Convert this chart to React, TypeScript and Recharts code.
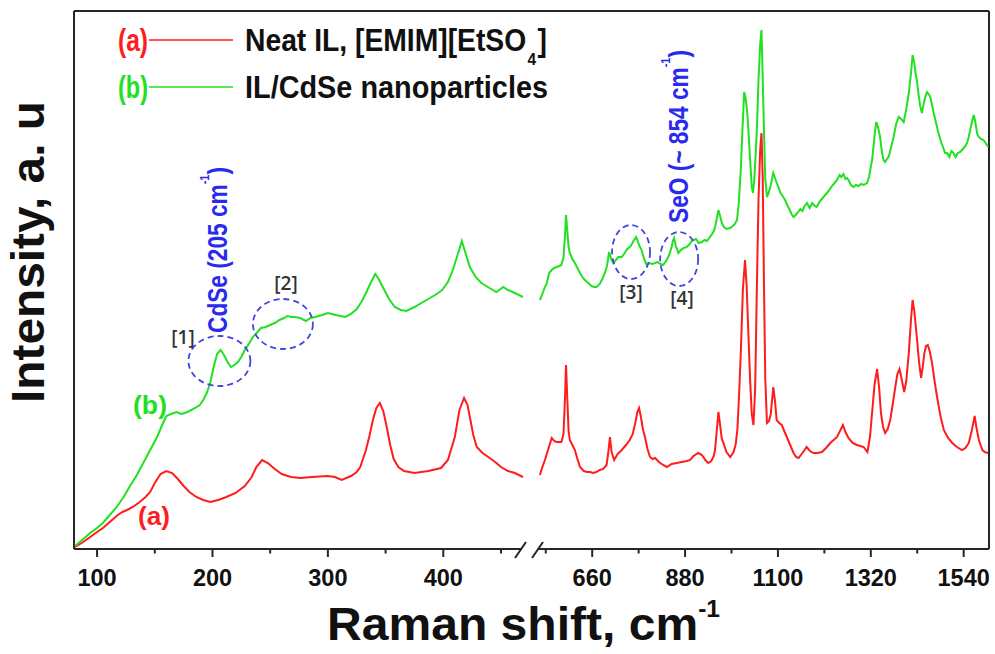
import React from 'react';
import { LineChart, Line, XAxis, YAxis, ReferenceLine, ReferenceDot } from 'recharts';

// ---------- data (Raman shift in cm-1, intensity in arbitrary units) ----------
const neatLeftShift = [81, 88, 94, 100, 105, 112, 118, 122, 126, 131, 137, 142, 146, 150, 155, 160, 165, 170, 175, 180, 186, 192, 198, 205, 212, 220, 228, 234, 238, 243, 248, 254, 260, 268, 276, 286, 300, 306, 312, 320, 325, 328, 333, 336, 339, 342, 345, 348, 351, 354, 357, 361, 366, 375, 387, 398, 404, 410, 414, 418, 421, 423, 426, 429, 434, 439, 445, 450, 456, 462, 469];
const neatLeftIntensity = [2, 7, 12, 17, 21, 28, 34, 37, 39, 42, 47, 52, 57, 66, 75, 78, 76, 70, 63, 57, 52, 49, 47, 49, 52, 56, 63, 72, 82, 89, 86, 80, 75, 72, 71, 72, 73, 72, 69, 73, 77, 82, 99, 113, 129, 141, 146, 138, 122, 104, 90, 82, 78, 76, 78, 81, 89, 112, 139, 151, 144, 132, 114, 102, 96, 92, 87, 82, 78, 76, 72];

const cdseLeftShift = [81, 88, 94, 100, 105, 111, 117, 123, 128, 134, 140, 146, 152, 156, 160, 164, 169, 173, 176, 180, 185, 189, 192, 195, 198, 201, 204, 207, 210, 213, 216, 219, 222, 225, 228, 232, 235, 239, 242, 246, 250, 254, 258, 262, 265, 268, 271, 276, 281, 285, 289, 295, 300, 307, 311, 315, 320, 325, 329, 333, 337, 341, 344, 348, 353, 358, 363, 368, 375, 381, 387, 393, 399, 404, 408, 411, 414, 416, 419, 423, 428, 433, 440, 446, 452, 456, 462, 469];
const cdseLeftIntensity = [3, 10, 16, 21, 26, 34, 42, 52, 62, 73, 86, 99, 112, 123, 133, 135, 137, 135, 136, 138, 141, 144, 149, 156, 166, 182, 195, 199, 194, 187, 182, 184, 187, 192, 199, 206, 212, 217, 221, 222, 224, 226, 229, 231, 233, 232, 232, 231, 228, 231, 232, 234, 236, 234, 233, 232, 235, 240, 247, 256, 266, 275, 270, 261, 250, 242, 239, 238, 242, 246, 250, 254, 259, 267, 278, 289, 300, 308, 297, 282, 272, 266, 261, 257, 262, 259, 256, 252];

const neatRightShift = [536, 542, 548, 556, 564, 570, 576, 582, 587, 592, 595, 598, 601, 604, 607, 613, 619, 625, 631, 640, 648, 655, 662, 670, 678, 686, 694, 698, 702, 706, 712, 720, 730, 740, 749, 756, 762, 767, 771, 775, 780, 785, 791, 797, 803, 809, 818, 828, 837, 848, 860, 872, 884, 892, 900, 911, 920, 928, 935, 942, 948, 951, 955, 959, 963, 967, 971, 978, 987, 995, 1000, 1004, 1008, 1012, 1017, 1022, 1026, 1030, 1034, 1038, 1042, 1046, 1050, 1054, 1058, 1061, 1064, 1067, 1070, 1074, 1079, 1083, 1089, 1093, 1097, 1103, 1109, 1115, 1121, 1129, 1137, 1143, 1149, 1158, 1168, 1176, 1184, 1194, 1204, 1214, 1224, 1232, 1240, 1247, 1254, 1260, 1267, 1277, 1287, 1295, 1303, 1312, 1318, 1323, 1329, 1335, 1340, 1344, 1349, 1354, 1360, 1366, 1372, 1378, 1383, 1388, 1393, 1399, 1404, 1410, 1415, 1419, 1423, 1429, 1434, 1439, 1443, 1447, 1451, 1455, 1460, 1465, 1471, 1477, 1485, 1493, 1503, 1513, 1524, 1536, 1544, 1552, 1559, 1566, 1570, 1576, 1584, 1590, 1598];
const neatRightIntensity = [74, 82, 89, 100, 111, 108, 107, 107, 107, 115, 145, 184, 150, 118, 109, 104, 99, 90, 82, 78, 77, 77, 76, 77, 79, 80, 84, 96, 112, 97, 89, 95, 99, 104, 109, 115, 126, 137, 141, 133, 120, 112, 100, 92, 90, 91, 87, 84, 82, 85, 86, 87, 88, 89, 93, 96, 94, 89, 86, 88, 93, 99, 118, 137, 124, 110, 106, 97, 92, 97, 105, 120, 155, 196, 260, 289, 262, 215, 170, 135, 124, 160, 260, 350, 400, 416, 370, 262, 170, 126, 128, 135, 162, 148, 129, 126, 124, 118, 112, 104, 96, 92, 91, 96, 102, 98, 96, 96, 97, 101, 106, 109, 112, 118, 124, 117, 111, 106, 104, 103, 102, 97, 112, 136, 165, 180, 160, 136, 122, 116, 120, 129, 145, 162, 175, 180, 170, 157, 168, 196, 228, 249, 238, 212, 188, 171, 182, 196, 203, 204, 197, 186, 168, 152, 133, 119, 111, 106, 102, 99, 101, 106, 118, 133, 122, 109, 99, 97, 96];

const cdseRightShift = [536, 542, 548, 552, 558, 564, 570, 576, 582, 587, 592, 595, 598, 601, 604, 607, 613, 619, 625, 631, 638, 645, 651, 658, 664, 670, 678, 684, 690, 695, 700, 705, 710, 716, 722, 730, 737, 743, 749, 754, 759, 764, 768, 772, 777, 783, 789, 796, 802, 809, 815, 822, 828, 835, 840, 844, 848, 851, 854, 858, 864, 870, 877, 884, 891, 896, 900, 906, 912, 920, 926, 932, 939, 944, 948, 951, 955, 959, 963, 967, 972, 978, 987, 993, 998, 1003, 1007, 1012, 1016, 1020, 1023, 1027, 1030, 1034, 1038, 1041, 1044, 1048, 1051, 1054, 1058, 1061, 1064, 1067, 1070, 1074, 1078, 1082, 1086, 1089, 1093, 1097, 1101, 1106, 1111, 1117, 1122, 1128, 1132, 1137, 1142, 1148, 1153, 1158, 1163, 1169, 1175, 1181, 1187, 1192, 1198, 1204, 1210, 1216, 1222, 1228, 1234, 1240, 1246, 1250, 1255, 1260, 1264, 1267, 1273, 1279, 1285, 1291, 1297, 1303, 1311, 1316, 1319, 1323, 1327, 1330, 1333, 1337, 1342, 1346, 1350, 1354, 1358, 1362, 1366, 1370, 1374, 1380, 1386, 1392, 1398, 1404, 1410, 1415, 1419, 1423, 1426, 1429, 1433, 1437, 1441, 1445, 1449, 1453, 1457, 1461, 1465, 1469, 1473, 1479, 1485, 1491, 1496, 1501, 1506, 1511, 1516, 1521, 1526, 1532, 1538, 1544, 1548, 1552, 1556, 1560, 1564, 1568, 1572, 1576, 1581, 1587, 1592, 1598];
const cdseRightIntensity = [249, 255, 262, 265, 276, 279, 281, 282, 283, 284, 292, 310, 334, 318, 302, 296, 290, 286, 281, 276, 271, 268, 266, 263, 262, 262, 265, 270, 276, 283, 297, 290, 286, 289, 292, 292, 296, 300, 302, 305, 309, 312, 308, 303, 299, 290, 284, 286, 285, 286, 287, 285, 284, 288, 292, 296, 302, 308, 311, 303, 296, 299, 301, 302, 305, 308, 309, 310, 306, 307, 309, 308, 312, 315, 318, 322, 330, 339, 333, 326, 322, 320, 321, 323, 325, 329, 345, 379, 420, 457, 452, 438, 419, 390, 362, 356, 370, 400, 430, 470, 505, 519, 470, 416, 370, 352, 356, 362, 370, 376, 371, 366, 362, 356, 353, 349, 344, 339, 335, 332, 334, 337, 340, 338, 343, 346, 341, 346, 343, 342, 347, 350, 353, 356, 359, 363, 366, 369, 374, 372, 375, 370, 371, 369, 364, 362, 364, 363, 365, 364, 366, 372, 380, 389, 405, 418, 427, 422, 412, 398, 389, 387, 390, 392, 398, 405, 412, 425, 432, 430, 427, 440, 456, 475, 494, 486, 476, 469, 455, 443, 436, 445, 452, 457, 455, 452, 444, 436, 429, 418, 409, 402, 396, 396, 392, 398, 396, 392, 396, 397, 400, 403, 406, 412, 420, 428, 434, 426, 415, 412, 410, 409, 406, 402];

const leftMajorTicks = [100, 200, 300, 400];
const leftMinorTicks = [150, 250, 350, 450];
const rightMajorTicks = [660, 880, 1100, 1320, 1540];
const rightMinorTicks = [550, 770, 990, 1210, 1430];

const leftDomain: [number, number] = [80, 476];
const rightDomain: [number, number] = [515, 1600];
const intensityDomain: [number, number] = [0, 538];

// annotation ellipses (centres in data coordinates)
const circlesLeft = [
  { shift: 206, intensity: 188, rx: 31, ry: 25 },
  { shift: 261, intensity: 225, rx: 30, ry: 25 },
];
const circlesRight = [
  { shift: 752, intensity: 297, rx: 19, ry: 27 },
  { shift: 866, intensity: 290, rx: 19, ry: 27 },
];

// ---------- styling ----------
const FONT = "'Liberation Sans', Arial, Helvetica, sans-serif";
const BRACKET_FONT = "'Open Sans', 'DejaVu Sans', sans-serif";
const AXIS = '#262626';
const RED = '#ff1c1c';
const GREEN = '#22e022';
const BLUE = '#2a2aee';
const PLOT_TOP = 11;
const PLOT_BOTTOM = 549;
const SPLIT_X = 531;

const zip = (xs: number[], ys: number[]) => xs.map((x, i) => ({ shift: x, intensity: ys[i] }));
const neatLeft = zip(neatLeftShift, neatLeftIntensity);
const cdseLeft = zip(cdseLeftShift, cdseLeftIntensity);
const neatRight = zip(neatRightShift, neatRightIntensity);
const cdseRight = zip(cdseRightShift, cdseRightIntensity);

const makeTick = (majors: number[]) => (props: any) => {
  const { x, payload } = props;
  const v = payload.value;
  const major = majors.includes(v);
  return (
    <g>
      <line x1={x} x2={x} y1={PLOT_BOTTOM} y2={PLOT_BOTTOM + (major ? 8 : 4.5)} stroke={AXIS} strokeWidth={2} />
      {major && (
        <text x={x} y={PLOT_BOTTOM + 36.5} textAnchor="middle" fontFamily={FONT} fontWeight="bold" fontSize={23.5} fill="#111">
          {v}
        </text>
      )}
    </g>
  );
};

const ellipseShape = (rx: number, ry: number) => (p: any) => (
  <ellipse cx={p.cx} cy={p.cy} rx={rx} ry={ry} fill="none" stroke="#4343e6" strokeWidth={1.8} strokeDasharray="6 4" />
);

const sortNum = (a: number, b: number) => a - b;

export default function App() {
  return (
    <div style={{ position: 'absolute', left: 0, top: 0, width: 995, height: 654, background: '#fff', overflow: 'hidden' }}>
      {/* left segment */}
      <div style={{ position: 'absolute', left: 0, top: 0 }}>
        <LineChart width={SPLIT_X} height={654} margin={{ top: PLOT_TOP, right: 0, bottom: 0, left: 74 }}>
          <XAxis
            type="number"
            dataKey="shift"
            domain={leftDomain}
            allowDataOverflow
            ticks={[...leftMajorTicks, ...leftMinorTicks].sort(sortNum)}
            interval={0}
            tickLine={false}
            tick={makeTick(leftMajorTicks)}
            axisLine={{ stroke: AXIS, strokeWidth: 2 }}
            height={105}
          />
          <YAxis type="number" domain={intensityDomain} allowDataOverflow hide />
          <ReferenceLine x={leftDomain[0]} stroke={AXIS} strokeWidth={2} />
          <ReferenceLine y={intensityDomain[1]} stroke={AXIS} strokeWidth={2} />
          <Line data={neatLeft} dataKey="intensity" type="linear" stroke={RED} strokeWidth={2} dot={false} isAnimationActive={false} />
          <Line data={cdseLeft} dataKey="intensity" type="linear" stroke={GREEN} strokeWidth={2} dot={false} isAnimationActive={false} />
          {circlesLeft.map((c, i) => (
            <ReferenceDot key={i} x={c.shift} y={c.intensity} r={1} shape={ellipseShape(c.rx, c.ry)} />
          ))}
        </LineChart>
      </div>
      {/* right segment */}
      <div style={{ position: 'absolute', left: SPLIT_X, top: 0 }}>
        <LineChart width={462} height={654} margin={{ top: PLOT_TOP, right: 4, bottom: 0, left: 0 }}>
          <XAxis
            type="number"
            dataKey="shift"
            domain={rightDomain}
            allowDataOverflow
            ticks={[...rightMajorTicks, ...rightMinorTicks].sort(sortNum)}
            interval={0}
            tickLine={false}
            tick={makeTick(rightMajorTicks)}
            axisLine={{ stroke: AXIS, strokeWidth: 2 }}
            height={105}
          />
          <YAxis type="number" domain={intensityDomain} allowDataOverflow hide />
          <ReferenceLine x={rightDomain[1]} stroke={AXIS} strokeWidth={2} />
          <ReferenceLine y={intensityDomain[1]} stroke={AXIS} strokeWidth={2} />
          <Line data={neatRight} dataKey="intensity" type="linear" stroke={RED} strokeWidth={2} dot={false} isAnimationActive={false} />
          <Line data={cdseRight} dataKey="intensity" type="linear" stroke={GREEN} strokeWidth={2} dot={false} isAnimationActive={false} />
          {circlesRight.map((c, i) => (
            <ReferenceDot key={i} x={c.shift} y={c.intensity} r={1} shape={ellipseShape(c.rx, c.ry)} />
          ))}
        </LineChart>
      </div>
      {/* overlay: axis break, titles, legend, annotations */}
      <svg width={995} height={654} style={{ position: 'absolute', left: 0, top: 0, pointerEvents: 'none' }}>
        <rect x={522} y={546} width={15.5} height={6} fill="#fff" />
        <line x1={515} y1={558} x2={526} y2={542} stroke={AXIS} strokeWidth={2} />
        <line x1={532} y1={558} x2={543} y2={542} stroke={AXIS} strokeWidth={2} />

        <text x={327} y={640} fontFamily={FONT} fontWeight="bold" fontSize={47} fill="#111" textLength={393} lengthAdjust="spacingAndGlyphs">
          Raman shift, cm<tspan dy={-23} fontSize={24}>-1</tspan>
        </text>
        <text transform="translate(44,252) rotate(-90)" textAnchor="middle" fontFamily={FONT} fontWeight="bold" fontSize={47} fill="#111" textLength={302} lengthAdjust="spacingAndGlyphs">Intensity, a. u</text>

        {/* legend */}
        <text x={118} y={51} fontFamily={FONT} fontWeight="bold" fontSize={31} fill={RED} textLength={30} lengthAdjust="spacingAndGlyphs">(a)</text>
        <line x1={149} x2={233} y1={40} y2={40} stroke={RED} strokeWidth={1.6} />
        <text x={245} y={51} fontFamily={FONT} fontWeight="bold" fontSize={31} fill="#111" textLength={302} lengthAdjust="spacingAndGlyphs">
          Neat IL, [EMIM][EtSO<tspan dx={1.5} dy={14} fontSize={17}>4</tspan><tspan dx={1.5} dy={-14}>]</tspan>
        </text>
        <text x={118} y={98} fontFamily={FONT} fontWeight="bold" fontSize={31} fill={GREEN} textLength={30} lengthAdjust="spacingAndGlyphs">(b)</text>
        <line x1={149} x2={233} y1={87} y2={87} stroke={GREEN} strokeWidth={1.6} />
        <text x={245} y={98} fontFamily={FONT} fontWeight="bold" fontSize={31} fill="#111" textLength={303} lengthAdjust="spacingAndGlyphs">IL/CdSe nanoparticles</text>

        {/* curve labels */}
        <text x={133} y={414} fontFamily={FONT} fontWeight="bold" fontSize={25} fill={GREEN} textLength={34} lengthAdjust="spacingAndGlyphs">(b)</text>
        <text x={138} y={525} fontFamily={FONT} fontWeight="bold" fontSize={25} fill={RED} textLength={32} lengthAdjust="spacingAndGlyphs">(a)</text>

        {/* bracket labels */}
        <text x={183} y={344} textAnchor="middle" fontFamily={BRACKET_FONT} fontWeight={600} fontSize={19} fill="#333">[1]</text>
        <text x={286} y={290} textAnchor="middle" fontFamily={BRACKET_FONT} fontWeight={600} fontSize={19} fill="#333">[2]</text>
        <text x={631} y={299} textAnchor="middle" fontFamily={BRACKET_FONT} fontWeight={600} fontSize={19} fill="#333">[3]</text>
        <text x={682} y={305} textAnchor="middle" fontFamily={BRACKET_FONT} fontWeight={600} fontSize={19} fill="#333">[4]</text>

        {/* rotated peak labels */}
        <text transform="translate(227,333) rotate(-90)" fontFamily={FONT} fontWeight="bold" fontSize={27} fill={BLUE} textLength={166} lengthAdjust="spacingAndGlyphs">
          CdSe (205 cm<tspan dy={-18} fontSize={13}>-1</tspan><tspan dy={18}>)</tspan>
        </text>
        <text transform="translate(688,223) rotate(-90)" fontFamily={FONT} fontWeight="bold" fontSize={27} fill={BLUE} textLength={173} lengthAdjust="spacingAndGlyphs">
          SeO (~ 854 cm<tspan dy={-18} fontSize={13}>-1</tspan><tspan dy={18}>)</tspan>
        </text>
      </svg>
    </div>
  );
}
